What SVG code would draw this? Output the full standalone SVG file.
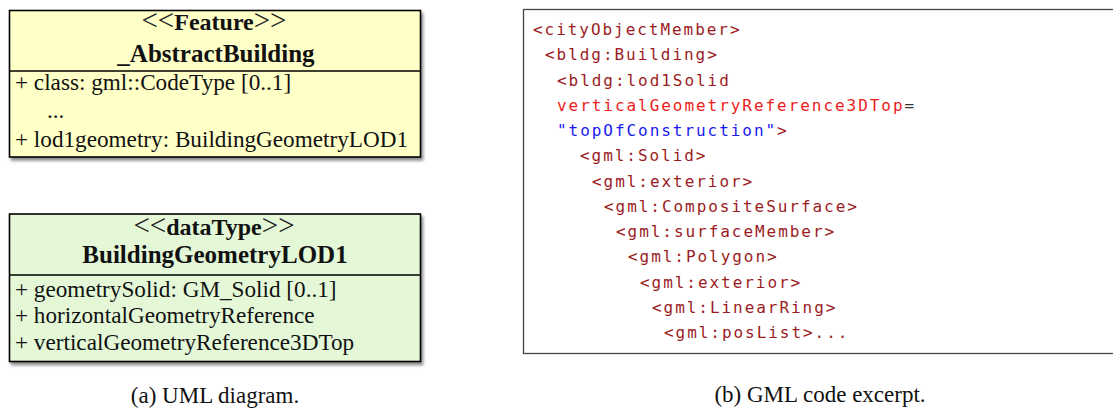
<svg xmlns="http://www.w3.org/2000/svg" width="1113" height="410" viewBox="0 0 1113 410">
<defs>
<filter id="shadow" x="-5%" y="-5%" width="115%" height="120%">
<feDropShadow dx="2" dy="3" stdDeviation="1.6" flood-color="#000" flood-opacity="0.45"/>
</filter>
</defs>
<style>
.box{stroke:#000;stroke-width:1.6;}
.uml{font-family:"Liberation Serif","Times New Roman",serif;font-size:23.2px;fill:#111;}
.hdr{font-family:"Liberation Serif","Times New Roman",serif;font-size:24px;fill:#111;text-anchor:middle;}
.nm{font-family:"Liberation Serif","Times New Roman",serif;font-size:25px;font-weight:bold;fill:#111;text-anchor:middle;}
.b{font-weight:bold;}
.lt{font-size:29px;font-weight:normal;fill:#222;}
.cap{font-family:"Liberation Serif","Times New Roman",serif;font-size:23px;fill:#111;text-anchor:middle;}
.code{font-family:"DejaVu Sans Mono",monospace;font-size:16px;letter-spacing:1.95px;fill:#9b1c1f;}
.attr{fill:#ee1c1c;}
.val{fill:#1a1aee;}
.eq{fill:#333;}
</style>
<rect width="1113" height="410" fill="#fff"/>
<g id="abstractBuilding">
<rect class="box" x="9.5" y="10.5" width="411" height="146.5" fill="#ffffc8" filter="url(#shadow)"/>
<line class="box" x1="9.5" y1="71" x2="420.5" y2="71"/>
<text class="hdr" x="214" y="30"><tspan class="lt">&lt;&lt;</tspan><tspan class="b">Feature</tspan><tspan class="lt">&gt;&gt;</tspan></text>
<text class="nm" x="216" y="62">_AbstractBuilding</text>
<text class="uml" x="15" y="90">+ class: gml::CodeType [0..1]</text>
<text class="uml" x="47" y="118">...</text>
<text class="uml" x="15" y="147">+ lod1geometry: BuildingGeometryLOD1</text>
</g>
<g id="buildingGeometryLOD1">
<rect class="box" x="9.5" y="214" width="411" height="147.5" fill="#e4f8d8" filter="url(#shadow)"/>
<line class="box" x1="9.5" y1="275" x2="420.5" y2="275"/>
<text class="hdr" x="214" y="235"><tspan class="lt">&lt;&lt;</tspan><tspan class="b">dataType</tspan><tspan class="lt">&gt;&gt;</tspan></text>
<text class="nm" x="215" y="263">BuildingGeometryLOD1</text>
<text class="uml" x="15" y="297">+ geometrySolid: GM_Solid [0..1]</text>
<text class="uml" x="15" y="323">+ horizontalGeometryReference</text>
<text class="uml" x="15" y="350">+ verticalGeometryReference3DTop</text>
</g>
<text class="cap" x="215" y="403">(a) UML diagram.</text>
<g id="gmlCode">
<rect x="523.5" y="9.5" width="600" height="344" fill="#fff" stroke="#444" stroke-width="1.3"/>
<text class="code" x="533" y="35">&lt;cityObjectMember&gt;</text>
<text class="code" x="545" y="60.3">&lt;bldg:Building&gt;</text>
<text class="code" x="557" y="85.5">&lt;bldg:lod1Solid</text>
<text class="code" x="557" y="110.8"><tspan class="attr">verticalGeometryReference3DTop</tspan><tspan class="eq">=</tspan></text>
<text class="code" x="557" y="136"><tspan class="val">"topOfConstruction"</tspan>&gt;</text>
<text class="code" x="580" y="161.3">&lt;gml:Solid&gt;</text>
<text class="code" x="592" y="186.5">&lt;gml:exterior&gt;</text>
<text class="code" x="604" y="211.8">&lt;gml:CompositeSurface&gt;</text>
<text class="code" x="616" y="237">&lt;gml:surfaceMember&gt;</text>
<text class="code" x="628" y="262.3">&lt;gml:Polygon&gt;</text>
<text class="code" x="640" y="287.5">&lt;gml:exterior&gt;</text>
<text class="code" x="652" y="312.8">&lt;gml:LinearRing&gt;</text>
<text class="code" x="664" y="338">&lt;gml:posList&gt;...</text>
</g>
<text class="cap" x="820" y="402">(b) GML code excerpt.</text>
</svg>
